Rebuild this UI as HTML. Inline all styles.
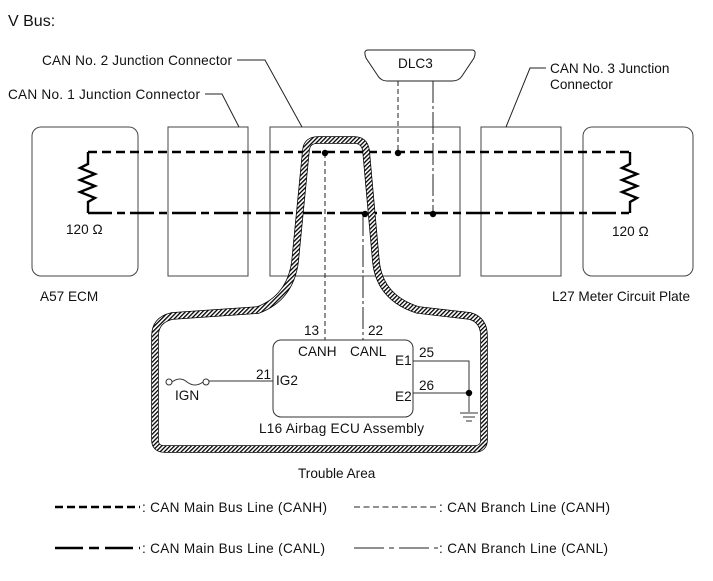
<!DOCTYPE html>
<html><head><meta charset="utf-8"><style>
html,body{margin:0;padding:0;background:#fff;}
svg{display:block;}
text{font-family:"Liberation Sans",sans-serif;font-size:13.6px;fill:#111;}
</style></head><body>
<svg width="713" height="581" viewBox="0 0 713 581" xmlns="http://www.w3.org/2000/svg">
<defs>
<pattern id="h" width="3" height="3" patternUnits="userSpaceOnUse" patternTransform="rotate(45)">
<rect width="3" height="3" fill="#fff"/><rect width="1.3" height="3" fill="#000"/>
</pattern>
</defs>
<text x="8" y="26" style="font-size:16px">V Bus:</text>

<rect x="32" y="127" width="106" height="149" rx="9" fill="none" stroke="#444" stroke-width="1"/>
<rect x="168" y="127" width="80" height="149" fill="none" stroke="#444" stroke-width="1"/>
<rect x="270" y="127" width="190" height="149" fill="none" stroke="#444" stroke-width="1"/>
<rect x="481" y="127" width="80" height="149" fill="none" stroke="#444" stroke-width="1"/>
<rect x="583" y="127" width="110" height="149" rx="9" fill="none" stroke="#444" stroke-width="1"/>

<text x="42" y="65" textLength="190">CAN No. 2 Junction Connector</text>
<polyline points="237,60 265,60 302,127" fill="none" stroke="#222"/>
<text x="8" y="99" textLength="192">CAN No. 1 Junction Connector</text>
<polyline points="205,94 222,94 239,127" fill="none" stroke="#222"/>
<text x="550" y="73">CAN No. 3 Junction</text>
<text x="550" y="89">Connector</text>
<polyline points="546,68 530,68 506,127" fill="none" stroke="#222"/>

<path d="M368,50 L472,50 Q477,50 474,58 L462,76 Q459,81 452,81 L388,81 Q381,81 378,76 L366,58 Q363,50 368,50 Z" fill="#fff" stroke="#222"/>
<text x="398" y="68">DLC3</text>
<line x1="398" y1="81" x2="398" y2="153" stroke="#222" stroke-dasharray="5,3"/>
<line x1="433" y1="81" x2="433" y2="214" stroke="#222" stroke-dasharray="22,3,3,3"/>

<line x1="88" y1="152" x2="630" y2="152" stroke="#000" stroke-width="2.6" stroke-dasharray="9,5"/>
<line x1="88" y1="213" x2="630" y2="213" stroke="#000" stroke-width="2.6" stroke-dasharray="24,5,8,5"/>
<polyline points="88,152 88,164 80,168 95,174 80,180 95,186 80,192 95,198 88,202 88,213" fill="none" stroke="#000" stroke-width="2.4"/>
<polyline points="630,152 630,164 622,168 637,174 622,180 637,186 622,192 637,198 630,202 630,213" fill="none" stroke="#000" stroke-width="2.4"/>
<text x="66" y="234">120 Ω</text>
<text x="612" y="236">120 Ω</text>
<text x="40" y="301">A57  ECM</text>
<text x="552" y="301" textLength="138">L27  Meter Circuit Plate</text>

<path d="M306,150 Q307,140 318,140 L354,140 Q364,140 366,150 L376,262 Q380,298 418,310 L470,316 Q484,320 484,336 L484,440 Q484,449 474,449 L165,449 Q155,449 155,440 L155,336 Q155,320 172,316 L258,310 Q290,298 295,262 Z" fill="none" stroke="#000" stroke-width="7.5"/>
<path d="M306,150 Q307,140 318,140 L354,140 Q364,140 366,150 L376,262 Q380,298 418,310 L470,316 Q484,320 484,336 L484,440 Q484,449 474,449 L165,449 Q155,449 155,440 L155,336 Q155,320 172,316 L258,310 Q290,298 295,262 Z" fill="none" stroke="url(#h)" stroke-width="6"/>

<line x1="325" y1="153" x2="325" y2="340" stroke="#222" stroke-dasharray="5,3"/>
<line x1="363" y1="214" x2="363" y2="340" stroke="#222" stroke-dasharray="22,3,3,3"/>
<circle cx="325" cy="153" r="3.2"/><circle cx="398" cy="153" r="3.2"/>
<circle cx="365" cy="214" r="3.2"/><circle cx="433" cy="214" r="3.2"/>

<rect x="273" y="340" width="140" height="77" rx="8" fill="#fff" stroke="#333"/>
<text x="304" y="335">13</text><text x="368" y="335">22</text>
<text x="298" y="356">CANH</text><text x="350" y="356">CANL</text>
<text x="395" y="365">E1</text><text x="395" y="401">E2</text>
<text x="419" y="357">25</text><text x="419" y="390">26</text>
<text x="276" y="385">IG2</text><text x="256" y="379">21</text>
<polyline points="413,361 469,361 469,412" fill="none" stroke="#333"/>
<line x1="413" y1="393" x2="469" y2="393" stroke="#333"/>
<circle cx="469" cy="393" r="3.2"/>
<line x1="460" y1="413" x2="478" y2="413" stroke="#333"/>
<line x1="463" y1="417" x2="475" y2="417" stroke="#333"/>
<line x1="466" y1="421" x2="472" y2="421" stroke="#333"/>
<line x1="209" y1="381" x2="273" y2="381" stroke="#333"/>
<circle cx="169" cy="382" r="3" fill="#fff" stroke="#333"/>
<circle cx="206" cy="382" r="3" fill="#fff" stroke="#333"/>
<path d="M172,382 Q180,376 187,382 Q195,388 203,382" fill="none" stroke="#333"/>
<text x="175" y="400">IGN</text>
<text x="259" y="433" textLength="165">L16 Airbag ECU Assembly</text>
<text x="298" y="478">Trouble Area</text>

<line x1="55" y1="507" x2="140" y2="507" stroke="#000" stroke-width="2.6" stroke-dasharray="8,4"/>
<text x="142" y="512" textLength="185">: CAN Main Bus Line (CANH)</text>
<line x1="354" y1="507" x2="438" y2="507" stroke="#222" stroke-dasharray="6,3.5"/>
<text x="439" y="512" textLength="171">: CAN Branch Line (CANH)</text>
<line x1="55" y1="548" x2="140" y2="548" stroke="#000" stroke-width="2.6" stroke-dasharray="28,6,10,6"/>
<text x="142" y="553" textLength="183">: CAN Main Bus Line (CANL)</text>
<line x1="354" y1="548" x2="438" y2="548" stroke="#222" stroke-dasharray="30,5,5,5"/>
<text x="439" y="553" textLength="169">: CAN Branch Line (CANL)</text>
</svg>
</body></html>
